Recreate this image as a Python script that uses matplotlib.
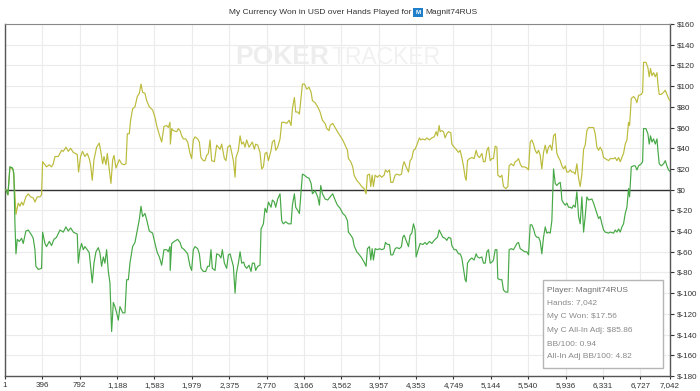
import matplotlib
matplotlib.use('Agg')
import matplotlib.pyplot as plt
from matplotlib.patches import Rectangle
from matplotlib.ticker import FuncFormatter

plt.rcParams['font.family'] = ['Liberation Sans', 'DejaVu Sans']

# hands played / currency won (green line)
hands_won = [
    1, 11, 32, 53, 81, 95, 106, 117, 131, 152, 177, 194, 222, 247, 283, 300, 318, 328, 353, 388,
    399, 424, 441, 470, 494, 519, 547, 583, 618, 646, 671, 696, 724, 766, 777, 794, 812, 830, 847, 872,
    893, 907, 925, 943, 964, 989, 1006, 1024, 1042, 1059, 1077, 1095, 1112, 1130, 1148, 1165, 1183, 1201, 1218, 1247,
    1271, 1289, 1307, 1324, 1352, 1377, 1402, 1423, 1441, 1458, 1483, 1501, 1529, 1564, 1589, 1614, 1635, 1660, 1684, 1713,
    1730, 1748, 1750, 1766, 1794, 1829, 1854, 1872, 1900, 1935, 1960, 1977, 1995, 2013, 2041, 2059, 2076, 2101, 2126, 2147,
    2165, 2182, 2196, 2225, 2242, 2267, 2288, 2302, 2324, 2348, 2366, 2384, 2401, 2419, 2437, 2451, 2472, 2490, 2507, 2528,
    2542, 2560, 2585, 2606, 2620, 2641, 2655, 2677, 2701, 2712, 2737, 2754, 2772, 2790, 2818, 2832, 2853, 2867, 2888, 2913,
    2931, 2948, 2973, 3001, 3030, 3044, 3065, 3079, 3100, 3118, 3136, 3150, 3171, 3196, 3220, 3242, 3256, 3284, 3312, 3330,
    3344, 3362, 3390, 3418,
    3443, 3471, 3496, 3521, 3549, 3577, 3602, 3627, 3637, 3662, 3683, 3697, 3725, 3754, 3778, 3803, 3824, 3838, 3860, 3874,
    3888, 3902, 3920, 3944, 3966, 3990, 4015, 4029, 4050, 4072, 4086, 4107, 4132, 4149, 4177, 4199, 4213, 4227, 4248, 4273,
    4290, 4308, 4326, 4343, 4354, 4379, 4396, 4425, 4449, 4467, 4495, 4520, 4545, 4566, 4580, 4598, 4615, 4637, 4661, 4679,
    4697, 4721, 4732, 4757, 4778, 4802, 4820, 4838, 4855, 4873, 4884, 4898, 4919, 4944, 4968, 4990, 5004, 5025, 5050, 5067,
    5085, 5103, 5120, 5138, 5156, 5173,
    5191, 5209, 5219, 5244, 5262, 5279, 5304, 5325, 5339, 5360, 5385, 5403, 5421, 5438, 5456, 5473, 5502, 5526, 5544, 5562,
    5579, 5597, 5615, 5632, 5650, 5668, 5685, 5703, 5721, 5738, 5756, 5774, 5791, 5809, 5827, 5844, 5862, 5880, 5890, 5897,
    5915, 5933, 5950, 5968, 5986, 6003, 6021, 6038, 6056, 6074, 6091, 6109, 6127, 6144, 6162, 6180, 6215, 6233, 6250, 6268,
    6286, 6303, 6321, 6339, 6356, 6392, 6409, 6445, 6462, 6480, 6498, 6515, 6533, 6550, 6568, 6586, 6603, 6614, 6632, 6656,
    6674, 6692, 6709, 6738, 6752, 6762, 6787, 6808, 6822, 6836, 6851, 6868, 6886, 6904, 6914, 6928, 6949, 6974, 6992, 7009,
    7027, 7042,
]
won = [
    0, 0, -5, 22, 21, 16, -32, -62, -48, -50, -47, -52, -40, -39, -44, -47, -58, -74, -77, -76,
    -41, -52, -55, -50, -54, -48, -46, -39, -41, -36, -40, -37, -41, -43, -71, -58, -52, -58, -55, -58,
    -61, -74, -90, -71, -60, -56, -61, -74, -65, -71, -58, -79, -90, -137, -109, -113, -119, -126, -113, -119,
    -119, -87, -87, -71, -55, -51, -39, -29, -16, -26, -23, -29, -40, -42, -52, -61, -65, -73, -58, -58,
    -60, -55, -78, -52, -50, -48, -51, -56, -58, -62, -74, -78, -58, -55, -57, -62, -76, -79, -79, -74,
    -74, -58, -76, -78, -62, -63, -66, -58, -71, -76, -63, -62, -68, -74, -100, -81, -71, -60, -71, -70,
    -74, -76, -73, -79, -71, -71, -78, -74, -73, -38, -33, -18, -22, -12, -17, -10, -12, -17, -9, -4,
    -30, -33, -31, -33, -33, -15, -4, -17, -20, -23, -1, 15, 14, 12, 11, 6, -4, -1, -7, -15,
    4, -4, -9, -10,
    -7, -4, -10, -15, -18, -23, -25, -30, -41, -44, -47, -54, -60, -63, -66, -70, -74, -57, -55, -68,
    -57, -68, -57, -58, -57, -58, -57, -51, -53, -53, -63, -63, -57, -56, -57, -55, -46, -44, -49, -55,
    -44, -42, -33, -39, -65, -57, -52, -53, -51, -53, -50, -52, -49, -47, -46, -39, -42, -46, -47, -49,
    -46, -47, -54, -58, -58, -62, -62, -66, -76, -87, -89, -71, -68, -66, -68, -62, -65, -66, -65, -71,
    -71, -60, -58, -71, -70, -68,
    -58, -58, -86, -87, -87, -97, -99, -99, -58, -57, -58, -55, -52, -51, -57, -58, -60, -60, -63, -34,
    -34, -38, -44, -46, -46, -50, -62, -46, -36, -42, -41, -42, -30, 20, 6, 4, 6, 7, -1, -10,
    -13, -15, -13, -17, -17, -18, -15, -17, -2, -26, -33, -7, -41, -26, -7, -10, -9, -13, -18, -23,
    -28, -26, -33, -39, -41, -42, -41, -42, -39, -41, -38, -41, -36, -33, -23, -17, 1, -7, 22, 23,
    23, 19, 23, 25, 27, 59, 59, 54, 44, 52, 46, 49, 44, 49, 38, 25, 23, 25, 28, 23,
    19, 17.56,
]

# hands played / all-in adjusted (yellow line)
hands_adj = [
    1, 11, 32, 53, 88, 106, 117, 141, 159, 177, 194, 222, 247, 272, 300, 318, 342, 371, 388, 399,
    424, 441, 470, 494, 512, 530, 565, 600, 618, 646, 671, 696, 724, 766, 780, 801, 822, 847, 872, 893,
    907, 925, 943, 971, 999, 1013, 1035, 1049, 1070, 1084, 1105, 1123, 1141, 1155, 1176, 1190, 1211, 1236, 1261, 1282,
    1296, 1317, 1331, 1352, 1377, 1402, 1423, 1441, 1458, 1483, 1501, 1529, 1564, 1589, 1607, 1635, 1660, 1684, 1713,
    1730, 1748, 1752, 1766, 1783, 1819, 1836, 1854, 1872, 1889, 1914, 1935, 1960, 1977, 1995, 2013, 2041, 2059, 2076, 2101,
    2119, 2136, 2154, 2172, 2189, 2218, 2242, 2260, 2278, 2295, 2324, 2341, 2359, 2384, 2401, 2419, 2437, 2447, 2472, 2490,
    2507, 2525, 2542, 2560, 2585, 2606, 2620, 2641, 2655, 2677, 2701, 2719, 2737, 2754, 2772, 2790, 2818, 2832, 2853, 2867,
    2888, 2913, 2931, 2959, 2984, 3009, 3030, 3044, 3065, 3079, 3100, 3118, 3136, 3150, 3171, 3196, 3220, 3242, 3256, 3284,
    3312, 3337, 3362, 3390, 3408, 3432,
    3443, 3471, 3496, 3521, 3549, 3577, 3602, 3627, 3637, 3662, 3683, 3697, 3725, 3754, 3778, 3803, 3824, 3838, 3860, 3874,
    3888, 3902, 3920, 3944, 3966, 3990, 4015, 4029, 4050, 4072, 4086, 4107, 4132, 4149, 4177, 4199, 4213, 4227, 4248, 4273,
    4290, 4308, 4326, 4343, 4361, 4389, 4403, 4425, 4449, 4467, 4495, 4520, 4545, 4566, 4580, 4598, 4608, 4626, 4644, 4661,
    4679, 4697, 4721, 4732, 4757, 4778, 4802, 4820, 4838, 4855, 4873, 4884, 4898, 4919, 4944, 4968, 4990, 5004, 5025, 5050,
    5067, 5085, 5103, 5120, 5138, 5156, 5173,
    5191, 5209, 5219, 5244, 5262, 5279, 5304, 5325, 5339, 5360, 5385, 5403, 5421, 5438, 5456, 5473, 5502, 5526, 5544, 5562,
    5579, 5597, 5615, 5632, 5650, 5668, 5685, 5703, 5721, 5738, 5756, 5774, 5791, 5809, 5827, 5844, 5862, 5880, 5897, 5915,
    5933, 5950, 5968, 5986, 6003, 6021, 6038, 6056, 6074, 6091, 6109, 6127, 6144, 6162, 6180, 6215, 6233, 6250, 6268, 6286,
    6303, 6321, 6339, 6356, 6392, 6409, 6445, 6462, 6480, 6498, 6515, 6533, 6550, 6568, 6586, 6603, 6614, 6632, 6656, 6674,
    6692, 6709, 6738, 6752, 6762, 6787, 6808, 6822, 6836, 6851, 6868, 6886, 6904, 6914, 6928, 6949, 6974, 6992, 7009, 7027,
    7042,
]
adj = [
    0, 0, -5, 22, 19, -4, -24, -13, -16, -12, -15, -7, -4, -7, -8, -12, -7, -7, -5, 27,
    24, 22, 24, 22, 25, 32, 32, 38, 37, 41, 37, 40, 36, 34, 17, 32, 37, 32, 35, 30,
    24, 9, 29, 41, 45, 38, 25, 32, 24, 35, 19, 6, 29, 33, 21, 24, 29, 25, 24, 25,
    54, 54, 67, 78, 80, 90, 93, 102, 94, 93, 86, 80, 77, 70, 62, 53, 46, 61, 62,
    60, 65, 44, 59, 57, 56, 59, 57, 52, 49, 49, 46, 35, 30, 48, 51, 49, 46, 31, 28,
    28, 33, 35, 48, 28, 27, 43, 41, 39, 44, 30, 28, 41, 43, 36, 28, 12, 31, 38, 52,
    44, 46, 41, 48, 41, 44, 46, 39, 44, 43, 36, 20, 22, 35, 36, 28, 38, 46, 48, 38,
    41, 49, 65, 65, 64, 67, 62, 78, 89, 75, 75, 73, 89, 102, 102, 97, 99, 94, 86, 84,
    80, 75, 67, 64, 59, 57,
    62, 64, 60, 56, 52, 48, 43, 38, 30, 27, 22, 14, 9, 6, 3, 1, -4, 14, 15, 3,
    14, 3, 14, 12, 14, 12, 14, 19, 17, 19, 7, 7, 14, 15, 14, 15, 23, 27, 22, 17,
    28, 30, 38, 39, 43, 50, 48, 49, 48, 50, 48, 50, 51, 56, 52, 62, 56, 57, 56, 50,
    54, 56, 55, 44, 41, 39, 36, 38, 31, 23, 12, 9, 28, 30, 31, 30, 38, 33, 31, 35,
    27, 27, 38, 41, 28, 30, 30,
    42, 41, 14, 12, 14, 3, 1, 3, 23, 25, 23, 27, 28, 30, 25, 22, 22, 21, 19, 46,
    48, 44, 38, 35, 38, 33, 20, 36, 43, 35, 41, 43, 38, 52, 54, 35, 31, 28, 23, 20,
    23, 17, 17, 19, 17, 17, 15, 25, 11, 3, 15, 39, 43, 57, 60, 60, 60, 54, 41, 38,
    41, 38, 31, 30, 28, 30, 30, 31, 28, 31, 27, 31, 35, 44, 48, 65, 62, 88, 90, 88,
    84, 91, 92, 94, 123, 123, 118, 109, 117, 110, 113, 109, 113, 102, 92, 92, 94, 96, 92, 88,
    85.86,
]

x_ticks = [1, 396, 792, 1188, 1583, 1979, 2375, 2770, 3166, 3562, 3957,
           4353, 4749, 5144, 5540, 5936, 6331, 6727, 7042]
y_ticks = list(range(-180, 161, 20))

player = 'Magnit74RUS'
info_lines = ['Player: Magnit74RUS', 'Hands: 7,042', 'My C Won: $17.56',
              'My C All-In Adj: $85.86', 'BB/100: 0.94', 'All-In Adj BB/100: 4.82']

W, H = 700, 391
fig = plt.figure(figsize=(W / 100, H / 100), dpi=100)
ax = fig.add_axes([5 / W, 1 - 376 / H, 665 / W, 352 / H])

ax.plot(hands_adj, adj, color='#bbbb3c', lw=0.85, zorder=3)
ax.plot(hands_won, won, color='#46a846', lw=0.85, zorder=3)
ax.axhline(0, color='#333333', lw=1.0, zorder=2)

ax.set_xlim(1, 7042)
ax.set_ylim(-180, 160)
ax.set_xticks(x_ticks)
ax.set_xticklabels([f'{t:,}' for t in x_ticks])
ax.set_yticks(y_ticks)
ax.yaxis.set_major_formatter(FuncFormatter(lambda v, p: f'${int(v)}'))
ax.yaxis.tick_right()
ax.tick_params(axis='y', labelsize=5.8, colors='#333333', length=3, width=0.8, pad=2)
ax.tick_params(axis='x', labelsize=5.8, colors='#333333', length=2, width=0.8, pad=2)
ax.grid(color='#ebebeb', lw=0.8)
ax.set_axisbelow(True)
for side in ['left', 'bottom', 'right']:
    ax.spines[side].set_color('#555555')
    ax.spines[side].set_linewidth(1.0)
ax.spines['top'].set_color('#888888')

# watermark
fig.text(329 / W, 1 - 57 / H, 'POKER', ha='right', va='center', fontsize=19,
         fontweight='bold', color='#ededed', zorder=1)
fig.text(331 / W, 1 - 57 / H, 'TRACKER', ha='left', va='center', fontsize=16.5,
         color='#f1f1f1', zorder=1)

# title
fig.text(411 / W, 1 - 13 / H, 'My Currency Won in USD over Hands Played for',
         ha='right', va='center', fontsize=6.0, color='#333333')
fig.add_artist(Rectangle((413 / W, 1 - 17 / H), 10 / W, 9 / H, transform=fig.transFigure,
                         facecolor='#1f7fc8', edgecolor='none'))
fig.text(418 / W, 1 - 12.5 / H, 'M', ha='center', va='center', fontsize=4.5,
         color='white', fontweight='bold')
fig.text(425 / W, 1 - 13 / H, player, ha='left', va='center', fontsize=6.0, color='#333333')

# info box
fig.add_artist(Rectangle((543 / W, 1 - 368 / H), 120 / W, 88 / H, transform=fig.transFigure,
                         facecolor='white', edgecolor='#b5b5b5', lw=1.0, zorder=5))
line_y = [290, 303, 317, 331, 344, 357]
for i, (txt, yy) in enumerate(zip(info_lines, line_y)):
    fig.text(547 / W, 1 - yy / H, txt, ha='left', va='center', fontsize=6.0,
             color='#707070' if i == 0 else '#8a8a8a', zorder=6)

fig.savefig('out.png', dpi=100)
